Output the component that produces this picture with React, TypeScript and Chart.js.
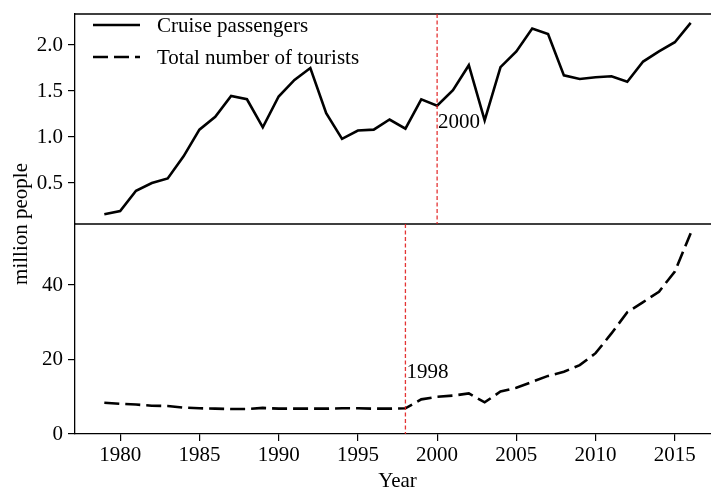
import React, { useEffect, useRef } from "react";
import { Chart, registerables } from "chart.js";

Chart.register(...registerables);

const years = [
  1979, 1980, 1981, 1982, 1983, 1984, 1985, 1986, 1987, 1988, 1989, 1990, 1991,
  1992, 1993, 1994, 1995, 1996, 1997, 1998, 1999, 2000, 2001, 2002, 2003, 2004,
  2005, 2006, 2007, 2008, 2009, 2010, 2011, 2012, 2013, 2014, 2015, 2016,
];

const cruisePassengers = [
  0.16, 0.195, 0.416, 0.5, 0.55, 0.79, 1.08, 1.22, 1.445, 1.41, 1.105, 1.44,
  1.62, 1.75, 1.26, 0.98, 1.07, 1.08, 1.19, 1.09, 1.41, 1.34, 1.51, 1.78, 1.18,
  1.76, 1.93, 2.18, 2.12, 1.67, 1.63, 1.65, 1.66, 1.6, 1.82, 1.93, 2.03, 2.24,
];

const totalTourists = [
  8.4, 8.1, 7.9, 7.6, 7.5, 7.1, 6.9, 6.8, 6.7, 6.7, 7.0, 6.8, 6.8, 6.8, 6.8,
  6.9, 6.9, 6.8, 6.8, 6.9, 9.3, 10.0, 10.3, 10.9, 8.5, 11.4, 12.4, 14.0, 15.6,
  16.7, 18.5, 21.7, 27.0, 32.7, 35.4, 38.2, 43.6, 53.9,
];

const seriesLabels = ["Cruise passengers", "Total number of tourists"];
const xTicks = [1980, 1985, 1990, 1995, 2000, 2005, 2010, 2015];
const topTicks = [0.5, 1.0, 1.5, 2.0];
const bottomTicks = [0, 20, 40];
const markerYears = [2000, 1998];
const markerAxes = ["yTop", "yBot"];
const markerLabels = ["2000", "1998"];
const markerLabelValues = [1.1, 15];

const FONT_FAMILY = '"Liberation Serif", "Times New Roman", serif';
const FONT_SIZE = 21;
const font = { family: FONT_FAMILY, size: FONT_SIZE };

const framePlugin = {
  id: "frame",
  afterDatasetsDraw(chart: any) {
    const { ctx, chartArea, scales } = chart;
    const x = scales.x;
    const yTop = scales.yTop;
    ctx.save();
    // top spine and panel divider
    ctx.strokeStyle = "#000";
    ctx.lineWidth = 1.3;
    ctx.beginPath();
    ctx.moveTo(chartArea.left, yTop.top);
    ctx.lineTo(chartArea.right, yTop.top);
    ctx.moveTo(chartArea.left, yTop.bottom);
    ctx.lineTo(chartArea.right, yTop.bottom);
    ctx.stroke();

    // red reference lines
    markerYears.forEach((yr, i) => {
      const ys = scales[markerAxes[i]];
      const px = x.getPixelForValue(yr);
      ctx.save();
      ctx.strokeStyle = "rgba(225,30,30,0.9)";
      ctx.lineWidth = 1.3;
      ctx.setLineDash([4, 2.5]);
      ctx.beginPath();
      ctx.moveTo(px, ys.top);
      ctx.lineTo(px, ys.bottom);
      ctx.stroke();
      ctx.restore();
      ctx.fillStyle = "#000";
      ctx.font = `${FONT_SIZE}px ${FONT_FAMILY}`;
      ctx.textAlign = "left";
      ctx.textBaseline = "alphabetic";
      ctx.fillText(markerLabels[i], px + 1, ys.getPixelForValue(markerLabelValues[i]));
    });

    // y title
    ctx.save();
    ctx.fillStyle = "#000";
    ctx.font = `${FONT_SIZE}px ${FONT_FAMILY}`;
    ctx.textAlign = "center";
    ctx.textBaseline = "middle";
    ctx.translate(21, (chartArea.top + chartArea.bottom) / 2);
    ctx.rotate(-Math.PI / 2);
    ctx.fillText("million people", 0, 0);
    ctx.restore();

    // legend
    const ds = chart.data.datasets;
    ds.forEach((d: any, i: number) => {
      const ly = 25 + i * 32;
      ctx.save();
      ctx.strokeStyle = d.borderColor;
      ctx.lineWidth = d.borderWidth;
      ctx.setLineDash(d.borderDash || []);
      ctx.beginPath();
      ctx.moveTo(93, ly);
      ctx.lineTo(140, ly);
      ctx.stroke();
      ctx.restore();
      ctx.fillStyle = "#000";
      ctx.font = `${FONT_SIZE}px ${FONT_FAMILY}`;
      ctx.textAlign = "left";
      ctx.textBaseline = "middle";
      ctx.fillText(d.label, 157, ly + 1);
    });
    ctx.restore();
  },
};

const yCommon = (ticksArr: number[], fmt: (v: number) => string) => ({
  type: "linear" as const,
  position: "left" as const,
  stack: "panels",
  stackWeight: 1,
  afterBuildTicks: (s: any) => {
    s.ticks = ticksArr.map((v) => ({ value: v }));
  },
  afterFit: (s: any) => {
    s.width = 75;
    s.paddingTop = 0;
    s.paddingBottom = 0;
  },
  ticks: {
    color: "#000",
    font,
    padding: 5,
    callback: (v: any) => fmt(Number(v)),
  },
  grid: {
    display: true,
    drawOnChartArea: false,
    drawTicks: true,
    tickLength: 7,
    color: "#000",
    lineWidth: 1.2,
  },
  border: { display: true, color: "#000", width: 1.3 },
});

export default function App() {
  const ref = useRef<HTMLCanvasElement>(null);

  useEffect(() => {
    const chart = new Chart(ref.current as HTMLCanvasElement, {
      type: "line",
      data: {
        datasets: [
          {
            label: seriesLabels[0],
            data: years.map((y, i) => ({ x: y, y: cruisePassengers[i] })),
            yAxisID: "yTop",
            borderColor: "#000",
            borderWidth: 2.6,
            pointRadius: 0,
            tension: 0,
            fill: false,
          },
          {
            label: seriesLabels[1],
            data: years.map((y, i) => ({ x: y, y: totalTourists[i] })),
            yAxisID: "yBot",
            borderColor: "#000",
            borderWidth: 2.6,
            borderDash: [15, 6],
            pointRadius: 0,
            tension: 0,
            fill: false,
          },
        ],
      },
      options: {
        animation: false,
        responsive: true,
        maintainAspectRatio: false,
        layout: { padding: { top: 14, right: 2, left: 0, bottom: 0 } },
        plugins: {
          legend: { display: false },
          tooltip: { enabled: false },
        },
        scales: {
          x: {
            type: "linear",
            min: 1977.15,
            max: 2017.85,
            afterBuildTicks: (s: any) => {
              s.ticks = xTicks.map((v) => ({ value: v }));
            },
            afterFit: (s: any) => {
              s.height = 57;
              s.paddingLeft = 0;
              s.paddingRight = 0;
            },
            ticks: {
              color: "#000",
              font,
              padding: 2,
              maxRotation: 0,
              autoSkip: false,
              callback: (v: any) => String(v),
            },
            grid: {
              display: true,
              drawOnChartArea: false,
              drawTicks: true,
              tickLength: 7,
              color: "#000",
              lineWidth: 1.2,
            },
            border: { display: true, color: "#000", width: 1.3 },
            title: {
              display: true,
              text: "Year",
              color: "#000",
              font,
              padding: { top: 0, bottom: -3 },
            },
          },
          yBot: {
            ...yCommon(bottomTicks, (v) => String(v)),
            min: 0,
            max: 56.38,
          },
          yTop: {
            ...yCommon(topTicks, (v) => v.toFixed(1)),
            min: 0.0543,
            max: 2.337,
          },
        } as any,
      },
      plugins: [framePlugin],
    });
    return () => chart.destroy();
  }, []);

  return (
    <div
      style={{
        position: "fixed",
        left: 0,
        top: 0,
        width: 711,
        height: 491,
        overflow: "hidden",
        background: "#fff",
      }}
    >
      <div style={{ position: "relative", width: 722, height: 491 }}>
        <canvas ref={ref} />
      </div>
    </div>
  );
}
